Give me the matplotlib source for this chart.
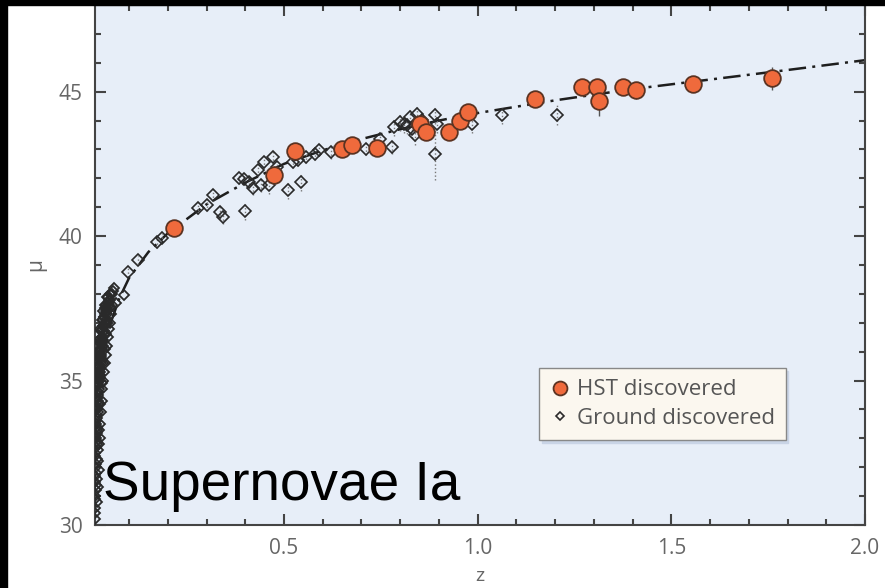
import numpy as np
from matplotlib import pyplot as plt
from matplotlib.patches import Rectangle

# HST discovered supernovae (z, mu, error)
hst_z = [0.217, 0.474, 0.528, 0.649, 0.675, 0.74, 0.85, 0.866, 0.927, 0.955, 0.975,
         1.147, 1.27, 1.307, 1.313, 1.375, 1.41, 1.557, 1.76]
hst_mu = [40.28, 42.11, 42.94, 43.0, 43.15, 43.05, 43.87, 43.6, 43.6, 44.0, 44.29,
          44.74, 45.16, 45.16, 44.67, 45.16, 45.05, 45.26, 45.47]
hst_err = [0.2, 0.3, 0.2, 0.2, 0.2, 0.2, 0.25, 0.25, 0.2, 0.2, 0.25,
           0.2, 0.2, 0.2, 0.5, 0.2, 0.3, 0.2, 0.4]

# ground discovered, low redshift clump
low_z = [0.012, 0.013, 0.012, 0.013, 0.014, 0.013, 0.015, 0.014, 0.016, 0.013, 0.015, 0.017,
         0.014, 0.016, 0.018, 0.015, 0.017, 0.019, 0.016, 0.018, 0.020, 0.017, 0.019, 0.021,
         0.023, 0.018, 0.020, 0.022, 0.024, 0.026, 0.019, 0.021, 0.023, 0.025, 0.027, 0.029,
         0.022, 0.024, 0.026, 0.028, 0.030, 0.033, 0.025, 0.027, 0.029, 0.031, 0.034, 0.037,
         0.028, 0.030, 0.033, 0.036, 0.039, 0.042, 0.032, 0.035, 0.038, 0.041, 0.044, 0.037,
         0.040, 0.043, 0.046, 0.049, 0.045, 0.050, 0.055, 0.060, 0.067, 0.088,
         0.013, 0.014, 0.012, 0.015, 0.013, 0.016, 0.014, 0.017, 0.015, 0.018, 0.016, 0.019,
         0.017, 0.021, 0.018, 0.022, 0.020, 0.025, 0.019, 0.024, 0.028, 0.021, 0.026, 0.031,
         0.023, 0.029, 0.035, 0.026, 0.032, 0.039, 0.030, 0.036, 0.043, 0.034, 0.041, 0.047,
         0.039, 0.046, 0.052, 0.044, 0.051, 0.058,
         0.020, 0.022, 0.021, 0.024, 0.025, 0.027, 0.029, 0.031, 0.034, 0.036, 0.038, 0.040,
         0.042, 0.045, 0.047, 0.050, 0.053, 0.056, 0.016, 0.018, 0.019, 0.022, 0.023, 0.026,
         0.030, 0.033, 0.037, 0.041, 0.044]
low_mu = [30.2, 30.4, 30.6, 30.9, 31.2, 31.5, 31.8, 32.0, 32.3, 32.5, 32.7, 32.9,
          33.1, 33.2, 33.4, 33.6, 33.7, 33.9, 34.0, 34.1, 34.3, 34.4, 34.5, 34.6,
          34.7, 34.8, 34.9, 35.0, 35.1, 35.2, 35.3, 35.4, 35.5, 35.3, 35.6, 35.7,
          35.8, 35.9, 36.0, 35.8, 36.1, 36.2, 36.3, 36.4, 36.2, 36.5, 36.4, 36.6,
          36.7, 36.8, 36.9, 36.7, 37.0, 37.0, 37.1, 37.2, 37.3, 37.1, 37.4, 37.5,
          37.6, 37.5, 37.7, 37.8, 37.9, 37.5, 38.0, 38.2, 37.7, 37.96,
          31.0, 31.4, 31.7, 32.1, 32.4, 32.8, 33.0, 33.3, 33.5, 33.8, 34.0, 34.2,
          34.4, 34.6, 34.9, 35.1, 35.2, 35.4, 35.5, 35.7, 35.9, 36.0, 36.1, 36.3,
          36.4, 36.5, 36.6, 36.8, 36.9, 36.9, 37.1, 37.2, 37.3, 37.4, 37.4, 37.6,
          37.6, 37.7, 37.8, 37.9, 38.0, 38.1,
          31.3, 31.9, 32.6, 33.0, 33.5, 33.9, 34.3, 34.7, 35.0, 35.3, 35.6, 35.9,
          36.2, 36.5, 36.8, 37.0, 37.3, 37.6, 30.8, 31.6, 32.2, 32.8, 33.3, 34.2,
          34.9, 35.6, 36.1, 36.6, 37.0]

# ground discovered, intermediate redshift
mid_z = [0.097, 0.123, 0.173, 0.186, 0.279, 0.30, 0.318, 0.336, 0.342, 0.399, 0.383, 0.396,
         0.409, 0.419, 0.432, 0.44, 0.448, 0.461, 0.471, 0.482, 0.51, 0.544, 0.523, 0.536,
         0.557, 0.58, 0.59, 0.622, 0.661, 0.713, 0.747, 0.778, 0.783, 0.799, 0.809, 0.817,
         0.83, 0.838, 0.825, 0.843, 0.856, 0.89, 0.89, 0.895, 0.986, 1.064, 1.206]
mid_mu = [38.75, 39.17, 39.79, 39.93, 40.97, 41.07, 41.42, 40.83, 40.66, 40.87, 42.0, 41.97,
          41.87, 41.66, 42.28, 41.76, 42.56, 41.76, 42.73, 42.39, 41.59, 41.87, 42.56, 42.63,
          42.73, 42.84, 42.98, 42.91, 43.05, 43.01, 43.36, 43.08, 43.77, 43.94, 43.88, 43.84,
          43.7, 43.49, 44.12, 44.22, 44.01, 44.19, 42.84, 43.88, 43.88, 44.19, 44.19]
mid_err = [0.15, 0.15, 0.2, 0.15, 0.2, 0.2, 0.2, 0.25, 0.25, 0.3, 0.2, 0.2,
           0.2, 0.25, 0.2, 0.25, 0.2, 0.3, 0.25, 0.2, 0.3, 0.3, 0.2, 0.2,
           0.2, 0.2, 0.2, 0.25, 0.2, 0.2, 0.2, 0.25, 0.3, 0.3, 0.3, 0.3,
           0.3, 0.35, 0.3, 0.3, 0.3, 0.3, 0.9, 0.3, 0.3, 0.3, 0.35]

# best fit curve
model_z = [0.012, 0.02, 0.03, 0.05, 0.075, 0.1, 0.15, 0.2, 0.3, 0.4, 0.5, 0.6, 0.7,
           0.8, 0.9, 1.0, 1.2, 1.4, 1.6, 1.8, 2.0]
model_mu = [33.6, 35.0, 35.9, 36.9, 37.85, 38.55, 39.45, 40.1, 41.1, 41.85, 42.5, 42.97, 43.36,
            43.7, 44.0, 44.26, 44.7, 45.09, 45.42, 45.75, 46.09]

plt.rcParams['font.family'] = ['Open Sans', 'DejaVu Sans']

fig = plt.figure(figsize=(8.85, 5.88), dpi=100, facecolor='white')
ax = fig.add_axes([0.1073, 0.1071, 0.8701, 0.8844])
ax.set_facecolor('#e7eef8')

ax.plot(model_z, model_mu, color='#1e1e1e', lw=1.8, ls=(0, (7, 2.5, 1.2, 2.5)), zorder=2)

eb = ax.errorbar(mid_z, mid_mu, yerr=mid_err, fmt='none', ecolor='#777777', elinewidth=1, zorder=3)
eb[2][0].set_linestyle(':')
ax.plot(low_z, low_mu, ls='none', marker='D', ms=5.5, mfc='none', mec='#2a2a2a', mew=1.3, zorder=4)
ax.plot(mid_z, mid_mu, ls='none', marker='D', ms=6.3, mfc='none', mec='#2a2a2a', mew=1.2,
        zorder=4, label='Ground discovered')

eb2 = ax.errorbar(hst_z, hst_mu, yerr=hst_err, fmt='none', ecolor='#555555', elinewidth=1, zorder=5)
ax.plot(hst_z, hst_mu, ls='none', marker='o', ms=12, mfc='#ef6a3c', mec='#5b3322', mew=1.3,
        zorder=6, label='HST discovered')

ax.set_xlim(0.012, 2.0)
ax.set_ylim(30, 48)
ax.set_xticks([0.5, 1.0, 1.5, 2.0])
ax.set_xticklabels(['0.5', '1.0', '1.5', '2.0'])
ax.set_xticks(np.arange(0.1, 2.0, 0.1), minor=True)
ax.set_yticks([30, 35, 40, 45])
ax.set_yticks(np.arange(31, 48, 1), minor=True)
ax.tick_params(which='both', direction='in', top=True, right=True, color='#444444',
               width=1.5, labelsize=15, labelcolor='#666666')
ax.tick_params(which='major', length=8, pad=9)
ax.tick_params(which='minor', length=4)
for sp in ax.spines.values():
    sp.set_color('#444444')
    sp.set_linewidth(1.5)

ax.set_xlabel('z', fontsize=14, color='#666666', labelpad=6)
ax.set_ylabel('μ', fontsize=15, color='#666666', labelpad=9)

handles, labels = ax.get_legend_handles_labels()
leg = ax.legend(handles[::-1], labels[::-1], loc='upper left', bbox_to_anchor=(0.562, 0.323),
                fontsize=16, frameon=True, fancybox=False, facecolor='#fbf7ef',
                edgecolor='#888888', framealpha=1, handletextpad=0.3, handlelength=0.9,
                borderpad=0.5, labelspacing=0.35,
                shadow={'color': '#c9d4e6', 'alpha': 1})
for t in leg.get_texts():
    t.set_color('#555555')
leg.legend_handles[0].set_markersize(10)
leg.legend_handles[1].set_markersize(4.5)

ax.text(0.0104, 0.048, 'Supernovae Ia', transform=ax.transAxes, fontsize=39.5,
        family='Liberation Sans', color='black', va='baseline', ha='left', zorder=7)

# black border strips along top and left edge
fig.patches.append(Rectangle((0, 0), 0.0079, 1, transform=fig.transFigure, color='black', zorder=10))
fig.patches.append(Rectangle((0, 0.9915), 1, 0.01, transform=fig.transFigure, color='black', zorder=10))

fig.savefig('out.png', dpi=100, facecolor='white')
